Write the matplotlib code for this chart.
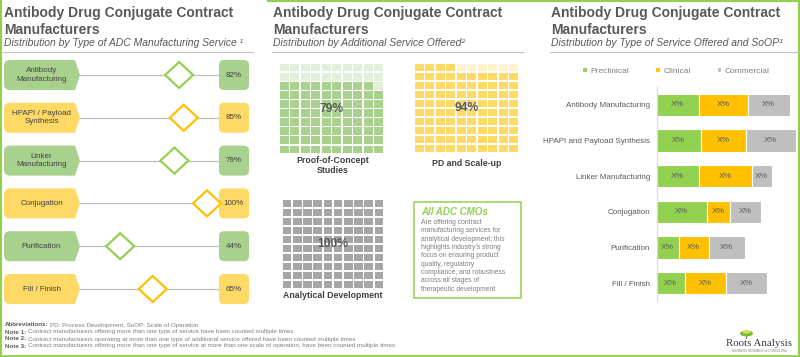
import numpy as np
import matplotlib.pyplot as plt
from matplotlib.patches import FancyBboxPatch, Polygon, Rectangle, Ellipse

plt.rcParams['font.family'] = ['Liberation Sans', 'DejaVu Sans']

W, H = 800, 357

#panel 1: type of ADC manufacturing service
services = ["Antibody\nManufacturing", "HPAPI / Payload\nSynthesis", "Linker\nManufacturing",
            "Conjugation", "Purification", "Fill / Finish"]
service_share = [82, 85, 79, 100, 44, 65]

#panel 2: additional service offered
extra_services = ["Proof-of-Concept\nStudies", "PD and Scale-up", "Analytical Development"]
extra_share = [79, 94, 100]

#panel 3: service vs scale of operation (values are placeholders, shown as X%)
soop_categories = ["Antibody Manufacturing", "HPAPI and Payload Synthesis", "Linker Manufacturing",
                   "Conjugation", "Purification", "Fill / Finish"]
preclinical = [41.5, 43.5, 41.5, 49.5, 21.5, 27.5]
clinical = [49, 45, 53, 23, 30, 41]
commercial = [42.5, 50.5, 20.5, 31.5, 36.5, 41.5]
soop_labels = ["Preclinical", "Clinical", "Commercial"]

callout_title = "All ADC CMOs"
callout_lines = ["Are offering contract", "manufacturing services for", "analytical development; this",
                 "highlights industry's strong", "focus on ensuring product", "quality, regulatory",
                 "compliance, and robustness", "across all stages of", "therapeutic development"]

notes = [("Abbreviations:", "PD: Process Development, SoOP: Scale of Operation"),
         ("Note 1:", "Contract manufacturers offering more than one type of service have been counted multiple times"),
         ("Note 2:", "Contract manufacturers operating at more than one type of additional service offered have been counted multiple times"),
         ("Note 3:", "Contract manufacturers offering more than one type of service at more than one scale of operation, have been counted multiple times")]

#colours
GREEN = "#92D050"
YELLOW = "#FFC000"
GREEN_L = "#A9D18E"
YELLOW_L = "#FFD966"
GRAY = "#BFBFBF"
DARK = "#595959"
TXT = "#404040"

fig = plt.figure(figsize=(8, 3.57), dpi=100)


def px_axes(x0, y0, x1, y1):
    ax = fig.add_axes([x0 / W, 1 - y1 / H, (x1 - x0) / W, (y1 - y0) / H])
    ax.set_facecolor('none')
    return ax


canvas = px_axes(0, 0, W, H)
canvas.set_xlim(0, W)
canvas.set_ylim(H, 0)
canvas.axis('off')

#green frame
fw = 1.5
canvas.plot([1, 1], [0, H], color=GREEN, lw=fw, clip_on=False)
canvas.plot([268, W], [0.8, 0.8], color=GREEN, lw=fw, clip_on=False)
canvas.plot([W - 1.5, W - 1.5], [0, H], color=GREEN, lw=fw, clip_on=False)
canvas.plot([0, W], [H - 1.5, H - 1.5], color=GREEN, lw=fw + 0.5, clip_on=False)

#titles
subtitles = ["Distribution by Type of ADC Manufacturing Service \u00b9",
             "Distribution by Additional Service Offered\u00b2",
             "Distribution by Type of Service Offered and SoOP\u00b3"]
for (x0, x1), sub in zip([(4, 253), (273, 523), (551, 800)], subtitles):
    canvas.text(x0, 17, "Antibody Drug Conjugate Contract", fontsize=10, weight='bold', color=DARK, va='baseline')
    canvas.text(x0, 34, "Manufacturers", fontsize=10, weight='bold', color=DARK, va='baseline')
    canvas.text(x0, 46.5, sub, fontsize=7.5, style='italic', color=DARK, va='baseline')
    canvas.plot([x0 - 1, x1], [52, 52], color=GRAY, lw=0.8)

#panel 1
PX0, PXPCT, ROW = 52, 1.55, 42.8
ax1 = px_axes(4, 58, 251, 307)
ax1.set_xlim((4 - PX0) / PXPCT, (251 - PX0) / PXPCT)
ax1.set_ylim((307 - 75) / ROW, (58 - 75) / ROW)
ax1.axis('off')
sx, sy = 1 / PXPCT, 1 / ROW


def vx(px):
    return (px - PX0) / PXPCT


for i, (name, v) in enumerate(zip(services, service_share)):
    fill = GREEN_L if i % 2 == 0 else YELLOW_L
    edge = GREEN if i % 2 == 0 else YELLOW
    ax1.add_patch(FancyBboxPatch((vx(4), i - 15 * sy), 71 * sx, 30 * sy,
                                 boxstyle=f"round,pad=0,rounding_size={6 * sx}",
                                 mutation_aspect=sy / sx, fc=fill, ec='none'))
    ax1.add_patch(Polygon([(vx(69), i - 15 * sy), (vx(75), i - 15 * sy), (vx(80), i),
                           (vx(75), i + 15 * sy), (vx(69), i + 15 * sy)], closed=True, fc=fill, ec='none'))
    ax1.text(vx(41.5), i, name, ha='center', va='center', fontsize=5.8, color=TXT, linespacing=1.25)
    ax1.plot([vx(80), vx(219)], [i, i], color=GRAY, lw=0.9, zorder=1)
    ax1.add_patch(FancyBboxPatch((vx(219), i - 15 * sy), 30 * sx, 30 * sy,
                                 boxstyle=f"round,pad=0,rounding_size={5 * sx}",
                                 mutation_aspect=sy / sx, fc=fill, ec='none'))
    ax1.text(vx(234), i, f"{v}%", ha='center', va='center', fontsize=5.8, color=TXT)
    ax1.add_patch(Polygon([(v - 14 * sx, i), (v, i - 13 * sy), (v + 14 * sx, i), (v, i + 13 * sy)],
                          closed=True, fc='white', ec=edge, lw=1.6, zorder=3))

#panel 2 waffles
waffle_boxes = [(279, 63, 384, 154), (414, 63, 519, 153), (282, 199, 384, 289)]
waffle_colors = [(GREEN_L, "#E2EFDA"), (YELLOW_L, "#FFF2CC"), ("#A6A6A6", "#D9D9D9")]
label_pos = [(333, 165.5), (467, 163), (333, 296)]
for name, share, box, (on, off), (lx, ly) in zip(extra_services, extra_share, waffle_boxes,
                                                  waffle_colors, label_pos):
    ax = px_axes(*box)
    ax.set_xlim(0, 10)
    ax.set_ylim(0, 10)
    ax.axis('off')
    for k in range(100):
        r, c = divmod(k, 10)
        ax.add_patch(Rectangle((c + 0.07, r + 0.07), 0.86, 0.86, fc=on if k < share else off, ec='none'))
    ax.text(5, 5, f"{share}%", ha='center', va='center', fontsize=8.7, weight='bold', color=DARK)
    canvas.text(lx, ly, name, ha='center', va='center', fontsize=6.3, weight='bold', color=TXT, linespacing=1.2)

#callout box
canvas.add_patch(Rectangle((414, 202), 107, 96, fc='white', ec=GREEN, lw=1.1))
canvas.text(421, 212, callout_title, fontsize=7, weight='bold', style='italic', color=GREEN, va='center')
for k, line in enumerate(callout_lines):
    canvas.text(421, 222.5 + 8.35 * k, line, fontsize=4.9, color="#7F7F7F", va='center')

#panel 3 stacked bars
ax3 = px_axes(657, 87, 798, 301)
ypos = np.arange(len(soop_categories))
left = np.zeros(len(soop_categories))
for vals, color, lab in zip([preclinical, clinical, commercial], [GREEN, YELLOW, GRAY], soop_labels):
    bc = ax3.barh(ypos, vals, left=left, height=0.62, color=color, edgecolor='white', linewidth=0.8, label=lab)
    ax3.bar_label(bc, labels=["X%"] * len(vals), label_type='center', fontsize=6, color=DARK)
    left = left + np.array(vals)
ax3.set_xlim(0, 141)
ax3.set_ylim(5.5, -0.5)
ax3.set_yticks(ypos, soop_categories, fontsize=5.8, color=DARK)
ax3.tick_params(axis='y', length=0, pad=5)
ax3.set_xticks([])
for s in ['top', 'right', 'bottom']:
    ax3.spines[s].set_visible(False)
ax3.spines['left'].set_color("#D9D9D9")
ax3.spines['left'].set_linewidth(0.8)
ax3.legend(loc='center', bbox_to_anchor=(676 / W, 1 - 71 / H), bbox_transform=fig.transFigure,
           ncol=3, frameon=False, fontsize=6, handlelength=0.55, handleheight=0.55,
           handletextpad=0.45, columnspacing=3.1, labelcolor="#7F7F7F", borderpad=0)

#footer notes: bold prefix, then regular text on the same baseline
renderer = fig.canvas.get_renderer()
for k, (bold, rest) in enumerate(notes):
    y = 326.5 + 7 * k
    t = canvas.text(5, y, bold, fontsize=4.5, weight='bold', color=DARK, va='baseline')
    x_end = canvas.transData.inverted().transform(t.get_window_extent(renderer).p1)[0]
    canvas.text(x_end + 1.8, y, rest, fontsize=4.5, color="#7F7F7F", va='baseline')

#logo
canvas.add_patch(Rectangle((745.6, 334), 1.4, 5, fc="#8B6A3E", ec='none'))
canvas.add_patch(Ellipse((746.5, 333.5), 13, 6, fc="#7DBA3C", ec='none'))
canvas.add_patch(Ellipse((746.5, 332), 8, 3, fc="#D7E24A", ec='none'))
canvas.text(759.5, 346, "Roots Analysis", family=['Liberation Serif', 'DejaVu Serif'], fontsize=7.8,
            color="#333B4F", ha='center', va='baseline')
canvas.text(759.5, 350.5, "BUSINESS RESEARCH & CONSULTING", fontsize=2.2, color="#7F7F7F",
            ha='center', va='center')

fig.savefig("out.png", dpi=100)
